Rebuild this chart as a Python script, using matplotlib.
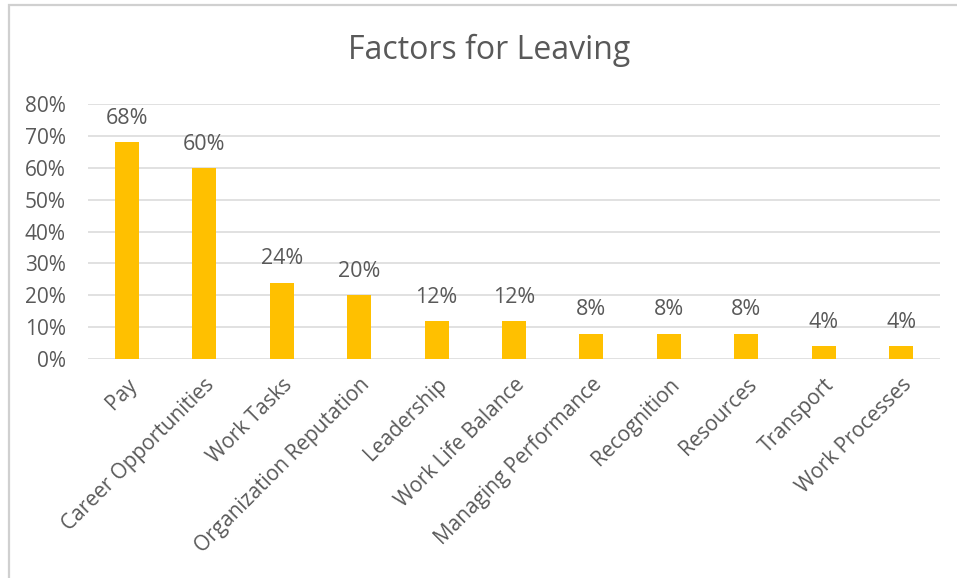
import matplotlib
matplotlib.use("Agg")
import matplotlib.pyplot as plt
from matplotlib.patches import Rectangle
from matplotlib.ticker import FuncFormatter, MultipleLocator

categories = ["Pay", "Career Opportunities", "Work Tasks", "Organization Reputation",
              "Leadership", "Work Life Balance", "Managing Performance", "Recognition",
              "Resources", "Transport", "Work Processes"]
values = [68, 60, 24, 20, 12, 12, 8, 8, 8, 4, 4]
title = "Factors for Leaving"

text_color = "#595959"
bar_color = "#FFC000"
grid_color = "#D9D9D9"

plt.rcParams["font.family"] = ["Open Sans", "DejaVu Sans"]

W, H = 957, 578
fig = plt.figure(figsize=(W / 100, H / 100), dpi=100)
fig.patch.set_facecolor("white")

# chart frame
fig.patches.append(Rectangle((9 / W, -0.02), 1.05, 1 - 5 / H + 0.02,
                             transform=fig.transFigure, fill=False,
                             edgecolor="#D0D0D0", linewidth=1.6, zorder=0))

ax = fig.add_axes([88 / W, 1 - 359 / H, (940 - 88) / W, (359 - 104) / H])
x = range(len(categories))
ax.bar(x, values, width=0.31, color=bar_color, zorder=3)
ax.set_xlim(-0.5, len(categories) - 0.5)
ax.set_ylim(0, 80)
ax.yaxis.set_major_locator(MultipleLocator(10))
ax.yaxis.set_major_formatter(FuncFormatter(lambda v, p: f"{v:.0f}%"))
ax.grid(axis="y", color=grid_color, linewidth=1.1, zorder=0)
for s in ax.spines.values():
    s.set_visible(False)
ax.tick_params(axis="both", length=0, labelsize=15, labelcolor=text_color)
ax.tick_params(axis="y", pad=16)
ax.set_xticks(list(x))
ax.set_xticklabels(categories, rotation=45, ha="right", va="top",
                   rotation_mode="anchor")
ax.tick_params(axis="x", pad=11)

for i, v in enumerate(values):
    ax.annotate(f"{v}%", (i, v), xytext=(0, 9.5), textcoords="offset points",
                ha="center", va="bottom", fontsize=15.5, color=text_color)

fig.text(489 / W, 1 - 50 / H, title, ha="center", va="center",
         fontsize=23, color=text_color)

fig.savefig("out.png", dpi=100, facecolor="white")
